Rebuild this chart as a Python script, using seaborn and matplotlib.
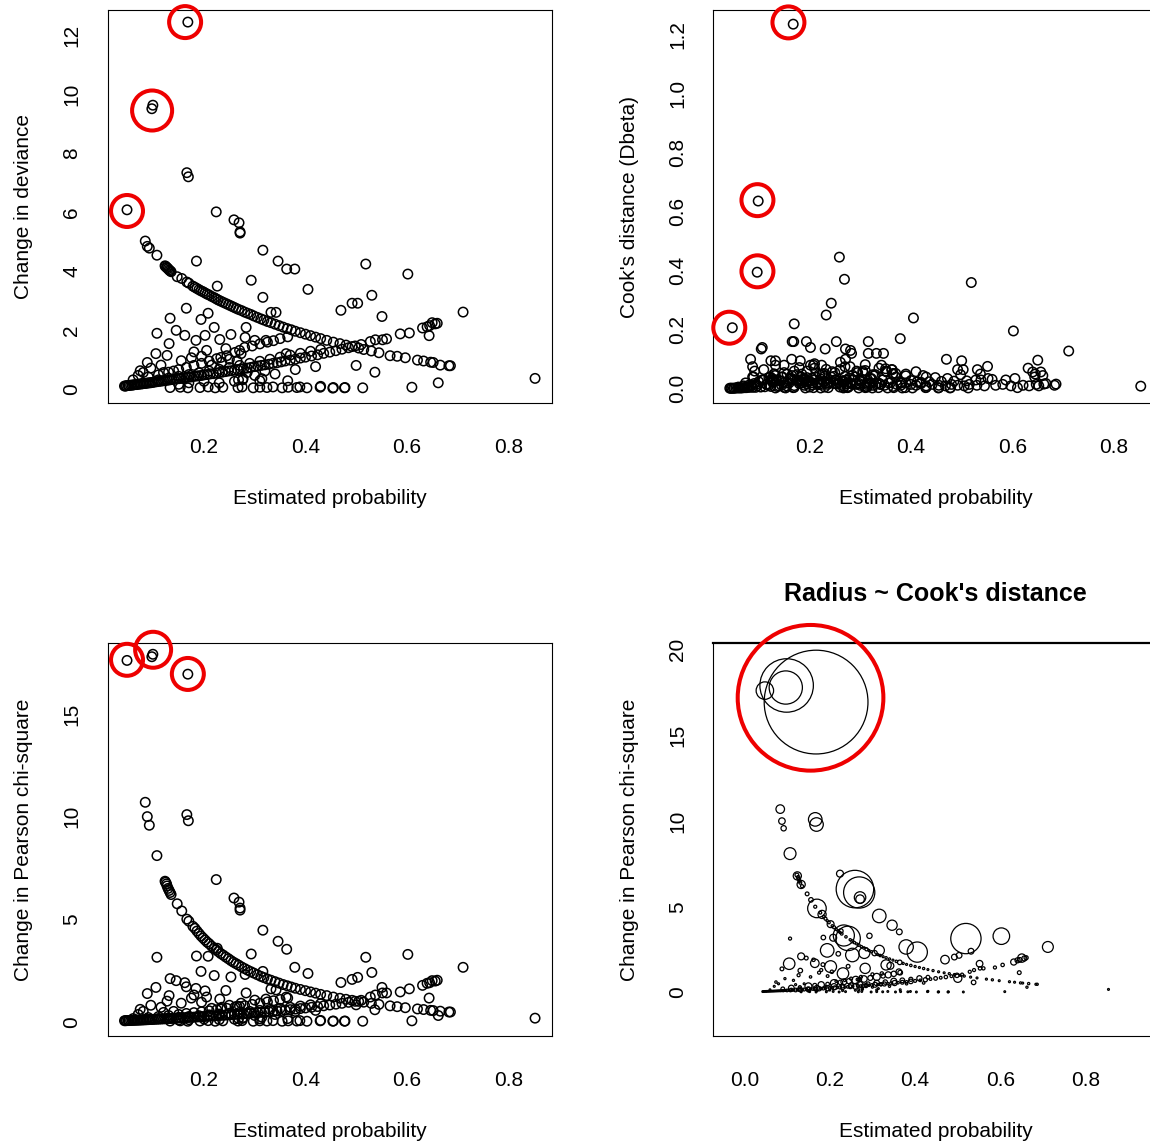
import matplotlib
matplotlib.use("Agg")
import matplotlib.pyplot as plt
import pandas as pd
import seaborn as sns

# --- influential covariate patterns (the circled ones) ---
prob_infl = [0.168, 0.099, 0.097, 0.048]
dev_infl = [12.44, 9.62, 9.50, 6.07]
chisq_infl = [16.95, 17.92, 17.80, 17.62]
cook_infl = [1.235, 0.636, 0.395, 0.207]

# --- y = 1 patterns (falling band) ---
prob_case = [0.084, 0.088, 0.092, 0.107, 0.123, 0.124, 0.126, 0.127, 0.129, 0.131, 0.133, 0.135,
             0.147, 0.156, 0.166, 0.170, 0.178, 0.182, 0.186, 0.190, 0.194, 0.198, 0.202, 0.206,
             0.210, 0.215, 0.220, 0.224, 0.228, 0.233, 0.238, 0.243, 0.248, 0.253, 0.258, 0.263,
             0.268, 0.274, 0.280, 0.286, 0.292, 0.298, 0.305, 0.312, 0.318, 0.325, 0.332, 0.340,
             0.348, 0.356, 0.364, 0.372, 0.380, 0.390, 0.400, 0.410, 0.420, 0.430, 0.442, 0.455,
             0.468, 0.480, 0.492, 0.505, 0.515, 0.530, 0.545, 0.567, 0.581, 0.597, 0.621, 0.633,
             0.647, 0.652, 0.666, 0.686, 0.683]
dev_case = [5.01, 4.83, 4.77, 4.53, 4.17, 4.15, 4.12, 4.10, 4.07, 4.03, 4.00, 3.97,
            3.80, 3.74, 3.62, 3.58, 3.48, 3.44, 3.40, 3.36, 3.32, 3.29, 3.25, 3.21,
            3.18, 3.13, 3.09, 3.05, 3.01, 2.97, 2.93, 2.89, 2.85, 2.81, 2.77, 2.73,
            2.69, 2.65, 2.60, 2.56, 2.52, 2.47, 2.42, 2.37, 2.33, 2.28, 2.24, 2.19,
            2.14, 2.09, 2.04, 2.00, 1.95, 1.90, 1.85, 1.80, 1.75, 1.70, 1.64, 1.58,
            1.53, 1.48, 1.43, 1.38, 1.33, 1.28, 1.22, 1.12, 1.10, 1.05, 0.97, 0.94,
            0.90, 0.89, 0.80, 0.78, 0.78]
chisq_case = [10.70, 10.00, 9.58, 8.10, 6.85, 6.80, 6.72, 6.62, 6.50, 6.40, 6.30, 6.20,
              5.75, 5.40, 5.00, 4.90, 4.65, 4.55, 4.42, 4.30, 4.18, 4.08, 3.98, 3.88,
              3.80, 3.68, 3.58, 3.50, 3.42, 3.32, 3.24, 3.15, 3.07, 2.98, 2.90, 2.83,
              2.76, 2.67, 2.59, 2.51, 2.44, 2.37, 2.29, 2.21, 2.15, 2.08, 2.02, 1.95,
              1.88, 1.81, 1.75, 1.69, 1.63, 1.57, 1.51, 1.45, 1.39, 1.33, 1.27, 1.20,
              1.14, 1.09, 1.04, 0.99, 0.95, 0.89, 0.84, 0.77, 0.73, 0.68, 0.62, 0.59,
              0.55, 0.54, 0.51, 0.47, 0.47]
cook_case = [0.100, 0.075, 0.060, 0.140, 0.040, 0.095, 0.035, 0.030, 0.030, 0.028, 0.095, 0.030,
             0.040, 0.050, 0.030, 0.220, 0.025, 0.095, 0.020, 0.030, 0.018, 0.025, 0.080, 0.020,
             0.030, 0.018, 0.022, 0.015, 0.025, 0.250, 0.020, 0.290, 0.018, 0.030, 0.020, 0.015,
             0.025, 0.018, 0.020, 0.030, 0.015, 0.018, 0.060, 0.015, 0.020, 0.012, 0.018, 0.015,
             0.012, 0.020, 0.050, 0.015, 0.012, 0.020, 0.015, 0.012, 0.018, 0.010, 0.015, 0.012,
             0.010, 0.015, 0.012, 0.010, 0.015, 0.012, 0.010, 0.012, 0.015, 0.010, 0.012, 0.010,
             0.015, 0.010, 0.018, 0.016, 0.012]

# --- y = 0 patterns (rising band) ---
prob_ctrl = [0.043, 0.045, 0.047, 0.050, 0.052, 0.055, 0.058, 0.061, 0.064, 0.067, 0.070, 0.073,
             0.076, 0.079, 0.082, 0.085, 0.088, 0.091, 0.094, 0.097, 0.100, 0.104, 0.108, 0.112,
             0.116, 0.120, 0.124, 0.128, 0.132, 0.136, 0.140, 0.145, 0.150, 0.155, 0.160, 0.165,
             0.170, 0.175, 0.180, 0.185, 0.190, 0.195, 0.200, 0.206, 0.212, 0.218, 0.224, 0.230,
             0.236, 0.242, 0.248, 0.254, 0.260, 0.266, 0.272, 0.278, 0.285, 0.292, 0.299, 0.306,
             0.313, 0.320, 0.328, 0.336, 0.344, 0.352, 0.360, 0.370, 0.380, 0.390, 0.400, 0.412,
             0.424, 0.436, 0.448, 0.460, 0.472, 0.485, 0.498, 0.510, 0.528, 0.538, 0.552, 0.560,
             0.587, 0.605, 0.631, 0.640, 0.645, 0.650, 0.656, 0.660,
             0.110, 0.130, 0.150, 0.170, 0.190, 0.210, 0.230, 0.250, 0.270, 0.290, 0.310, 0.330,
             0.350, 0.370, 0.390, 0.410, 0.430]
dev_ctrl = [0.09, 0.09, 0.10, 0.11, 0.11, 0.12, 0.12, 0.13, 0.14, 0.14, 0.15, 0.16,
            0.16, 0.17, 0.18, 0.18, 0.19, 0.20, 0.20, 0.21, 0.22, 0.23, 0.24, 0.25,
            0.26, 0.27, 0.28, 0.29, 0.30, 0.31, 0.32, 0.33, 0.34, 0.35, 0.37, 0.38,
            0.39, 0.40, 0.42, 0.43, 0.44, 0.45, 0.47, 0.48, 0.50, 0.51, 0.53, 0.55,
            0.56, 0.58, 0.60, 0.61, 0.63, 0.65, 0.67, 0.68, 0.70, 0.72, 0.75, 0.77,
            0.79, 0.81, 0.83, 0.86, 0.88, 0.91, 0.94, 0.97, 1.00, 1.04, 1.07, 1.11,
            1.15, 1.20, 1.24, 1.29, 1.34, 1.39, 1.45, 1.50, 1.60, 1.66, 1.66, 1.69,
            1.86, 1.89, 2.06, 2.10, 2.14, 2.24, 2.20, 2.22,
            0.30, 0.36, 0.42, 0.48, 0.54, 0.60, 0.66, 0.72, 0.79, 0.86, 0.93, 1.00,
            1.07, 1.14, 1.20, 1.27, 1.33]
chisq_ctrl = [0.045, 0.047, 0.050, 0.053, 0.055, 0.058, 0.062, 0.065, 0.069, 0.072, 0.075, 0.079,
              0.082, 0.086, 0.089, 0.093, 0.096, 0.100, 0.104, 0.107, 0.111, 0.116, 0.121, 0.126,
              0.131, 0.136, 0.141, 0.147, 0.152, 0.157, 0.163, 0.170, 0.176, 0.183, 0.190, 0.198,
              0.205, 0.212, 0.220, 0.227, 0.235, 0.242, 0.250, 0.259, 0.269, 0.279, 0.289, 0.299,
              0.309, 0.319, 0.330, 0.341, 0.351, 0.363, 0.374, 0.385, 0.399, 0.412, 0.427, 0.441,
              0.456, 0.471, 0.488, 0.506, 0.524, 0.543, 0.563, 0.587, 0.613, 0.639, 0.667, 0.700,
              0.736, 0.773, 0.812, 0.852, 0.894, 0.942, 0.992, 1.04, 1.20, 1.30, 1.40, 1.40,
              1.45, 1.60, 1.77, 1.87, 1.90, 2.00, 1.98, 2.02,
              0.15, 0.18, 0.21, 0.25, 0.29, 0.33, 0.37, 0.41, 0.45, 0.50, 0.55, 0.60,
              0.65, 0.70, 0.76, 0.82, 0.88]
cook_ctrl = [0.002, 0.002, 0.002, 0.002, 0.002, 0.003, 0.003, 0.003, 0.003, 0.003, 0.004, 0.004,
             0.004, 0.006, 0.005, 0.012, 0.005, 0.018, 0.005, 0.010, 0.024, 0.006, 0.030, 0.007,
             0.015, 0.038, 0.008, 0.022, 0.045, 0.008, 0.028, 0.012, 0.055, 0.010, 0.020, 0.035,
             0.011, 0.048, 0.018, 0.030, 0.012, 0.060, 0.025, 0.013, 0.040, 0.014, 0.032, 0.052,
             0.015, 0.022, 0.042, 0.016, 0.065, 0.028, 0.017, 0.036, 0.046, 0.018, 0.026, 0.055,
             0.019, 0.034, 0.044, 0.020, 0.030, 0.058, 0.021, 0.040, 0.022, 0.050, 0.028, 0.023,
             0.045, 0.024, 0.038, 0.025, 0.035, 0.026, 0.048, 0.027, 0.030, 0.030, 0.035, 0.032,
             0.030, 0.035, 0.070, 0.057, 0.050, 0.097, 0.057, 0.045,
             0.030, 0.050, 0.022, 0.060, 0.035, 0.070, 0.042, 0.055, 0.075, 0.040, 0.062, 0.048,
             0.068, 0.052, 0.044, 0.058, 0.040]

# --- patterns with two subjects, both y = 0 (upper rising band) ---
prob_pair = [0.090, 0.110, 0.130, 0.150, 0.165, 0.180, 0.195, 0.210, 0.225, 0.233,
             0.245, 0.261, 0.270, 0.280, 0.295, 0.310, 0.325, 0.337, 0.350, 0.365]
dev_pair = [0.40, 0.47, 0.56, 0.65, 0.72, 0.79, 0.86, 0.94, 1.02, 1.06,
            1.12, 1.23, 1.30, 1.40, 1.45, 1.52, 1.58, 1.63, 1.70, 1.76]
chisq_pair = [0.20, 0.25, 0.30, 0.35, 0.40, 0.44, 0.48, 0.53, 0.58, 0.61,
              0.65, 0.71, 0.74, 0.78, 0.84, 0.90, 0.96, 1.02, 1.08, 1.15]
cook_pair = [0.040, 0.065, 0.030, 0.080, 0.045, 0.072, 0.038, 0.085, 0.050, 0.066,
             0.058, 0.090, 0.042, 0.075, 0.055, 0.082, 0.048, 0.070, 0.060, 0.052]

# --- scattered patterns off the bands ---
prob_other = [0.133, 0.107, 0.145, 0.165, 0.162, 0.131, 0.105, 0.127, 0.088, 0.074,
              0.194, 0.208, 0.220, 0.202, 0.184, 0.231, 0.253, 0.243, 0.226, 0.293,
              0.316, 0.346, 0.363, 0.379, 0.405, 0.316, 0.332, 0.342, 0.283, 0.300,
              0.322, 0.281, 0.273, 0.362, 0.365, 0.268, 0.276, 0.310, 0.519, 0.602,
              0.531, 0.492, 0.503, 0.470, 0.551, 0.711, 0.500, 0.537, 0.662, 0.853,
              0.644, 0.259, 0.269, 0.271, 0.271, 0.224, 0.166, 0.169, 0.185,
              0.060, 0.070, 0.080, 0.095, 0.115, 0.120, 0.140, 0.155, 0.175, 0.180,
              0.195, 0.205, 0.215, 0.235, 0.250, 0.265, 0.285, 0.300, 0.320, 0.340,
              0.380, 0.420, 0.150, 0.170, 0.200, 0.230, 0.260]
dev_other = [2.39, 1.88, 1.98, 2.73, 1.81, 1.53, 1.19, 1.13, 0.89, 0.61,
             2.35, 2.56, 2.08, 1.81, 1.64, 1.67, 1.84, 1.36, 3.48, 3.68,
             4.70, 4.33, 4.06, 4.06, 3.37, 3.10, 2.59, 2.59, 2.08, 1.64,
             1.64, 1.74, 1.19, 1.19, 0.27, 0.30, 0.30, 0.27, 4.23, 3.89,
             3.17, 2.90, 2.90, 2.66, 2.45, 2.60, 0.79, 0.56, 0.20, 0.35,
             1.80, 5.73, 5.63, 5.32, 5.28, 6.00, 7.33, 7.19, 4.33,
             0.30, 0.45, 0.55, 0.70, 0.80, 0.55, 0.60, 0.95, 1.05, 1.25,
             1.10, 1.30, 0.80, 0.90, 1.00, 0.95, 0.55, 0.45, 0.60, 0.50,
             0.65, 0.75, 0.15, 0.20, 0.25, 0.20, 0.25]
chisq_other = [2.10, 3.14, 2.00, 1.70, 1.90, 1.27, 1.67, 1.00, 1.37, 0.60,
               2.45, 3.19, 2.25, 1.50, 1.62, 1.10, 2.18, 1.52, 3.58, 3.30,
               4.46, 3.92, 3.53, 2.65, 2.35, 2.45, 1.60, 1.55, 1.40, 1.05,
               1.10, 2.30, 0.90, 1.20, 0.15, 0.15, 0.16, 0.14, 3.14, 3.28,
               2.40, 2.06, 2.16, 1.91, 1.67, 2.65, 0.82, 0.58, 0.30, 0.17,
               1.15, 6.03, 5.83, 5.54, 5.44, 6.93, 10.10, 9.80, 3.20,
               0.15, 0.35, 0.50, 0.80, 0.70, 0.45, 0.50, 0.90, 1.15, 1.30,
               0.95, 1.20, 0.65, 0.70, 0.80, 0.75, 0.40, 0.30, 0.45, 0.35,
               0.50, 0.55, 0.08, 0.10, 0.13, 0.10, 0.12]
cook_other = [0.080, 0.030, 0.040, 0.100, 0.035, 0.050, 0.135, 0.030, 0.040, 0.020,
              0.160, 0.080, 0.050, 0.140, 0.040, 0.135, 0.160, 0.040, 0.050, 0.060,
              0.160, 0.120, 0.065, 0.170, 0.240, 0.120, 0.120, 0.080, 0.120, 0.030,
              0.035, 0.130, 0.030, 0.065, 0.008, 0.008, 0.008, 0.008, 0.360, 0.196,
              0.065, 0.065, 0.065, 0.100, 0.076, 0.128, 0.095, 0.050, 0.016, 0.009,
              0.040, 0.446, 0.371, 0.135, 0.100, 0.080, 0.160, 0.160, 0.050,
              0.006, 0.010, 0.012, 0.015, 0.015, 0.012, 0.010, 0.020, 0.030, 0.030,
              0.025, 0.035, 0.020, 0.020, 0.030, 0.025, 0.015, 0.012, 0.018, 0.015,
              0.020, 0.022, 0.005, 0.005, 0.006, 0.006, 0.006]

# --- well fitted patterns near zero ---
prob_zero = [0.133, 0.153, 0.168, 0.192, 0.208, 0.222, 0.237, 0.267, 0.275, 0.297,
             0.310, 0.324, 0.336, 0.354, 0.366, 0.383, 0.389, 0.403, 0.429, 0.454,
             0.478, 0.513, 0.610, 0.430, 0.455, 0.477, 0.277, 0.314]
dev_zero = [0.04, 0.05, 0.03, 0.04, 0.06, 0.03, 0.05, 0.04, 0.06, 0.03,
            0.05, 0.04, 0.06, 0.03, 0.05, 0.04, 0.06, 0.03, 0.05, 0.02,
            0.04, 0.03, 0.05, 0.08, 0.04, 0.03, 0.34, 0.34]
chisq_zero = [0.03, 0.04, 0.02, 0.03, 0.05, 0.02, 0.04, 0.03, 0.05, 0.02,
              0.04, 0.03, 0.05, 0.02, 0.04, 0.03, 0.05, 0.02, 0.04, 0.02,
              0.03, 0.02, 0.04, 0.06, 0.03, 0.02, 0.20, 0.22]
cook_zero = [0.003, 0.003, 0.004, 0.003, 0.004, 0.003, 0.004, 0.003, 0.004, 0.003,
             0.004, 0.003, 0.004, 0.003, 0.004, 0.003, 0.004, 0.003, 0.004, 0.003,
             0.004, 0.003, 0.004, 0.005, 0.004, 0.003, 0.006, 0.006]

# red rings: where the eye is drawn to in each panel
ring_dev_x = [0.1626, 0.0975, 0.048]
ring_dev_y = [12.44, 9.44, 6.03]
ring_cook_x = [0.1586, 0.0975, 0.0975, 0.042]
ring_cook_y = [1.241, 0.639, 0.398, 0.207]
ring_chisq_x = [0.048, 0.0995, 0.168]
ring_chisq_y = [17.65, 18.14, 16.96]
ring_bubble_x = [0.155]
ring_bubble_y = [17.2]


def build_frame():
    groups = [
        (prob_infl, dev_infl, chisq_infl, cook_infl),
        (prob_case, dev_case, chisq_case, cook_case),
        (prob_ctrl, dev_ctrl, chisq_ctrl, cook_ctrl),
        (prob_pair, dev_pair, chisq_pair, cook_pair),
        (prob_other, dev_other, chisq_other, cook_other),
        (prob_zero, dev_zero, chisq_zero, cook_zero),
    ]
    frames = [pd.DataFrame({"prob": p, "dev": d, "chisq": c, "cook": k}) for p, d, c, k in groups]
    df = pd.concat(frames, ignore_index=True)
    # bubble area in pt^2, radius proportional to Cook's distance
    df["bubble"] = (60.5 * df["cook"]) ** 2
    return df


W, H = 1150, 1142
FS = 15


def box(left, top, right, bottom):
    return [left / W, 1 - bottom / H, (right - left) / W, (bottom - top) / H]


def style_axes(ax, xlim, ylim, xticks, yticks, ylabel, yfmt):
    ax.set_xlim(*xlim)
    ax.set_ylim(*ylim)
    ax.set_xticks(xticks)
    ax.set_xticklabels([f"{t:.1f}" for t in xticks])
    ax.set_yticks(yticks)
    ax.set_yticklabels([yfmt.format(t) for t in yticks], rotation=90, va="center")
    ax.tick_params(axis="both", direction="out", length=5, width=0.8, labelsize=FS,
                   color="black", labelcolor="black")
    ax.tick_params(axis="x", pad=20)
    ax.tick_params(axis="y", pad=14)
    for sp in ax.spines.values():
        sp.set_visible(True)
        sp.set_linewidth(0.8)
        sp.set_color("black")
    ax.set_xlabel("Estimated probability", fontsize=FS, color="black")
    ax.set_ylabel(ylabel, fontsize=FS, color="black")
    ax.xaxis.set_label_coords(0.5, -0.218)
    ax.yaxis.set_label_coords(-0.168, 0.5)


def rings(ax, xs, ys, size):
    ring = pd.DataFrame({"x": xs, "y": ys})
    sns.scatterplot(data=ring, x="x", y="y", ax=ax, s=size, marker="o", fc="none",
                    ec="#ee0000", linewidth=2.9, zorder=5, clip_on=False, legend=False)


def open_points(ax, df, ycol):
    sns.scatterplot(data=df, x="prob", y=ycol, ax=ax, s=46, marker="o",
                    fc="none", ec="black", linewidth=1.1, legend=False)


df = build_frame()

sns.set_style("white")
plt.rcParams["font.family"] = ["Liberation Sans", "DejaVu Sans"]
plt.rcParams["text.color"] = "black"

fig = plt.figure(figsize=(W / 100, H / 100), dpi=100)
ax1 = fig.add_axes(box(107.5, 10, 552.3, 403))
ax2 = fig.add_axes(box(713.3, 10, 1158, 403))
ax3 = fig.add_axes(box(107.5, 643, 552.3, 1036))
ax4 = fig.add_axes(box(713.3, 643, 1158, 1036))

xt = [0.2, 0.4, 0.6, 0.8]

open_points(ax1, df, "dev")
rings(ax1, ring_dev_x, ring_dev_y, [530, 830, 530])
style_axes(ax1, (0.0095, 0.887), (-0.485, 12.85), xt, [0, 2, 4, 6, 8, 10, 12],
           "Change in deviance", "{:.0f}")

open_points(ax2, df, "cook")
rings(ax2, ring_cook_x, ring_cook_y, [530, 530, 530, 530])
style_axes(ax2, (0.0105, 0.887), (-0.048, 1.283), xt, [0.0, 0.2, 0.4, 0.6, 0.8, 1.0, 1.2],
           "Cook's distance (Dbeta)", "{:.1f}")

open_points(ax3, df, "chisq")
rings(ax3, ring_chisq_x, ring_chisq_y, [530, 670, 530])
style_axes(ax3, (0.0095, 0.887), (-0.70, 18.47), xt, [0, 5, 10, 15],
           "Change in Pearson chi-square", "{:.0f}")

smax = df["bubble"].max()
sns.scatterplot(data=df, x="prob", y="chisq", ax=ax4, size="bubble", sizes=(1.5, smax),
                size_norm=(0, smax), marker="o", fc="none", ec="black", linewidth=0.9,
                legend=False)
rings(ax4, ring_bubble_x, ring_bubble_y, [11000])
style_axes(ax4, (-0.0728, 0.969), (-2.55, 20.4), [0.0, 0.2, 0.4, 0.6, 0.8], [0, 5, 10, 15, 20],
           "Change in Pearson chi-square", "{:.0f}")
ax4.spines["top"].set_linewidth(1.6)
ax4.set_title("Radius ~ Cook's distance", fontsize=18, fontweight="bold", pad=30, color="black")

fig.savefig("out.png", dpi=100)
plt.close(fig)
